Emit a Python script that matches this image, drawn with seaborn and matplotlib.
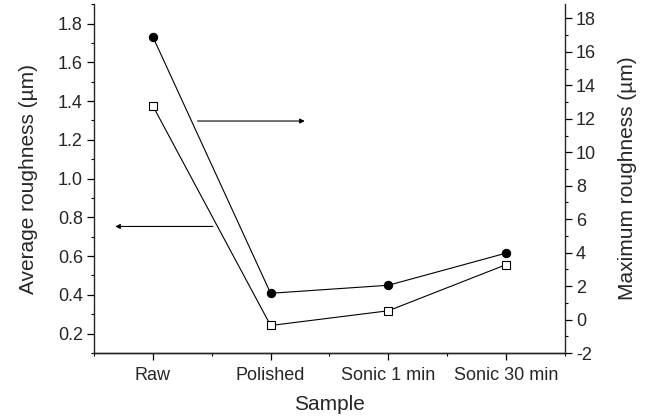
import numpy as np
import pandas as pd
import matplotlib
matplotlib.use("Agg")
import matplotlib.pyplot as plt
from matplotlib.ticker import MultipleLocator, FormatStrFormatter
import seaborn as sns

samples = ["Raw", "Polished", "Sonic 1 min", "Sonic 30 min"]
avg_roughness = [1.375, 0.242, 0.318, 0.556]     # µm, left axis
max_roughness = [16.9, 1.57, 2.05, 3.97]         # µm, right axis

sns.set_style("ticks")
plt.rcParams["font.family"] = ["Liberation Sans", "DejaVu Sans"]
plt.rcParams["axes.linewidth"] = 1.0

df = pd.DataFrame({
    "pos": np.arange(len(samples)),
    "sample": samples,
    "avg": avg_roughness,
    "max": max_roughness,
})

fig = plt.figure(figsize=(6.5, 4.16), dpi=100)
ax = fig.add_axes([0.1446, 0.1514, 0.7246, 0.8386])
ax2 = ax.twinx()

sns.lineplot(data=df, x="pos", y="avg", ax=ax, color="black", lw=0.8,
             marker="s", markersize=5.2, markerfacecolor="white",
             markeredgecolor="black", markeredgewidth=0.8, legend=False)
sns.lineplot(data=df, x="pos", y="max", ax=ax2, color="black", lw=0.8,
             marker="o", markersize=6, markerfacecolor="black",
             markeredgecolor="black", legend=False)

ax.set_xlim(-0.5, 3.5)
ax.set_ylim(0.1, 1.9)
ax2.set_ylim(-2, 18.85)

ax.set_xticks(df["pos"])
ax.set_xticklabels(samples)
ax.xaxis.set_minor_locator(MultipleLocator(0.5))
ax.yaxis.set_minor_locator(MultipleLocator(0.1))
ax2.yaxis.set_minor_locator(MultipleLocator(1))
ax.set_yticks(np.round(np.arange(0.2, 1.81, 0.2), 1))
ax2.set_yticks(np.arange(-2, 19, 2))

for a in (ax, ax2):
    a.tick_params(which="major", direction="out", length=5, width=0.9,
                  labelsize=13, pad=3, color="black")
    a.tick_params(which="minor", direction="out", length=2.5, width=0.8,
                  color="black")
    a.spines["top"].set_visible(False)
ax.tick_params(axis="x", which="major", pad=5)
ax.spines["right"].set_visible(False)
ax2.spines["left"].set_visible(False)

ax.yaxis.set_major_formatter(FormatStrFormatter("%.1f"))
ax2.yaxis.set_major_formatter(FormatStrFormatter("%d"))

ax.set_xlabel("Sample", fontsize=15, labelpad=8)
ax.set_ylabel("Average roughness (\u00b5m)", fontsize=15, labelpad=14)
ax2.set_ylabel("Maximum roughness (\u00b5m)", fontsize=15, labelpad=16)

# arrows pointing each curve to its axis
arrow = dict(arrowstyle="-|>", lw=0.8, color="black", mutation_scale=7,
             shrinkA=0, shrinkB=0)
ax.annotate("", xy=(1.29, 1.297), xytext=(0.38, 1.297), arrowprops=arrow)
ax.annotate("", xy=(-0.32, 0.753), xytext=(0.51, 0.753), arrowprops=arrow)

fig.savefig("out.png", dpi=100)
